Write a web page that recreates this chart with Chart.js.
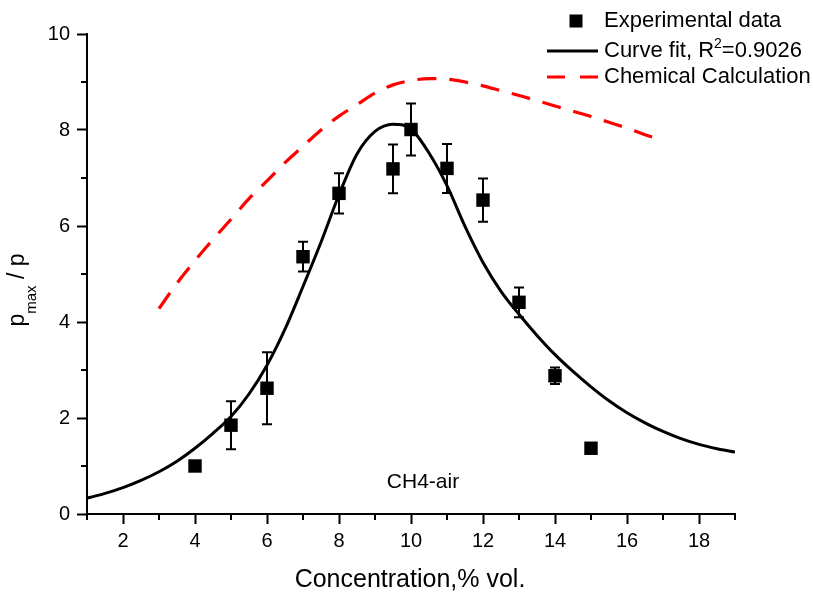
<!DOCTYPE html>
<html>
<head>
<meta charset="utf-8">
<title>CH4-air pressure ratio</title>
<script src="https://cdn.jsdelivr.net/npm/chart.js@4/dist/chart.umd.min.js"></script>
<style>
    html, body { margin: 0; padding: 0; background: #fff; }
    #wrap { width: 813px; height: 594px; position: relative; }
</style>
</head>
<body>
<div id="wrap"><canvas id="chart"></canvas></div>
<script>
// Measured points with their error bars
const conc = [4, 5, 6, 7, 8, 9.5, 10, 11, 12, 13, 14, 15];
const pRatio = [1.0, 1.85, 2.62, 5.36, 6.68, 7.19, 8.01, 7.2, 6.54, 4.41, 2.88, 1.37];
const pErr = [0, 0.5, 0.75, 0.31, 0.42, 0.51, 0.54, 0.51, 0.45, 0.31, 0.17, 0.1];

// Fitted curve
const fitX = [1, 1.5, 2, 2.5, 3, 3.5, 4, 4.5, 5, 5.5, 6, 6.5, 7, 7.5, 8, 8.5, 9, 9.5, 10,
    10.5, 11, 11.5, 12, 12.5, 13, 13.5, 14, 14.5, 15, 15.5, 16, 16.5, 17, 17.5, 18, 18.5, 19];
const fitY = [0.33, 0.43, 0.55, 0.7, 0.88, 1.1, 1.37, 1.68, 2.03, 2.5, 3.1, 3.85, 4.74, 5.66, 6.65, 7.5, 7.97, 8.12, 8.02,
    7.52, 6.84, 5.99, 5.24, 4.64, 4.16, 3.72, 3.32, 2.97, 2.65, 2.36, 2.11, 1.9, 1.72, 1.57, 1.45, 1.36, 1.29];

// Chemical calculation
const chemX = [3, 3.5, 4, 4.5, 5, 5.5, 6, 6.5, 7, 7.5, 8, 8.5, 9, 9.5, 10, 10.5, 11,
    11.5, 12, 12.5, 13, 13.5, 14, 14.5, 15, 15.5, 16, 16.5, 16.8];
const chemY = [4.28, 4.81, 5.28, 5.72, 6.14, 6.57, 6.94, 7.32, 7.66, 8.0, 8.29, 8.53, 8.77, 8.94, 9.03, 9.07, 9.06,
    9.0, 8.92, 8.82, 8.72, 8.61, 8.5, 8.39, 8.28, 8.16, 8.04, 7.9, 7.83];

// Axis ticks
const xTicks = [2, 4, 6, 8, 10, 12, 14, 16, 18];
const xMinor = [1, 3, 5, 7, 9, 11, 13, 15, 17, 19];
const yTicks = [0, 2, 4, 6, 8, 10];
const yMinor = [1, 3, 5, 7, 9];

const FONT = "'Liberation Sans', Arial, sans-serif";
const RED = '#ff0000';

const toXY = (xs, ys) => xs.map((x, i) => ({ x: x, y: ys[i] }));

// vertical error bars with caps
const errorBars = {
    id: 'errorBars',
    afterDatasetsDraw(chart) {
        const { ctx, scales: { x, y } } = chart;
        ctx.save();
        ctx.strokeStyle = '#000';
        ctx.lineWidth = 2;
        conc.forEach((c, i) => {
            if (!pErr[i]) return;
            const px = x.getPixelForValue(c);
            const top = y.getPixelForValue(pRatio[i] + pErr[i]);
            const bot = y.getPixelForValue(pRatio[i] - pErr[i]);
            ctx.beginPath();
            ctx.moveTo(px, top); ctx.lineTo(px, bot);
            ctx.moveTo(px - 5, top); ctx.lineTo(px + 5, top);
            ctx.moveTo(px - 5, bot); ctx.lineTo(px + 5, bot);
            ctx.stroke();
        });
        ctx.restore();
    }
};

// minor ticks, axis titles, annotation and legend
const decorations = {
    id: 'decorations',
    afterDraw(chart) {
        const { ctx, chartArea: area, scales: { x, y } } = chart;
        ctx.save();
        ctx.strokeStyle = '#000';
        ctx.lineWidth = 2;
        ctx.beginPath();
        xMinor.forEach(v => {
            const px = x.getPixelForValue(v);
            ctx.moveTo(px, area.bottom); ctx.lineTo(px, area.bottom + 6);
        });
        yMinor.forEach(v => {
            const py = y.getPixelForValue(v);
            ctx.moveTo(area.left, py); ctx.lineTo(area.left - 6, py);
        });
        ctx.stroke();

        ctx.fillStyle = '#000';

        // x title
        ctx.font = '25px ' + FONT;
        ctx.textAlign = 'center';
        ctx.textBaseline = 'alphabetic';
        ctx.fillText('Concentration,% vol.', 410, 587);

        // y title: p_max / p
        ctx.save();
        ctx.translate(24, 290);
        ctx.rotate(-Math.PI / 2);
        ctx.textAlign = 'left';
        const big = '23px ' + FONT, small = '15px ' + FONT;
        ctx.font = big;
        const w1 = ctx.measureText('p').width;
        const w3 = ctx.measureText(' / p').width;
        ctx.font = small;
        const w2 = ctx.measureText('max').width;
        let sx = -(w1 + w2 + w3) / 2;
        ctx.font = big;
        ctx.fillText('p', sx, 0);
        sx += w1;
        ctx.font = small;
        ctx.fillText('max', sx, 12);
        sx += w2;
        ctx.font = big;
        ctx.fillText(' / p', sx, 0);
        ctx.restore();

        // annotation
        ctx.font = '21px ' + FONT;
        ctx.textAlign = 'center';
        ctx.fillText('CH4-air', 423, 488);

        // legend
        ctx.textAlign = 'left';
        ctx.textBaseline = 'middle';
        ctx.font = '22px ' + FONT;
        ctx.fillRect(576 - 6.5, 21 - 6.5, 13, 13);
        ctx.fillText('Experimental data', 604, 21);

        ctx.beginPath();
        ctx.lineWidth = 3;
        ctx.moveTo(547, 51); ctx.lineTo(598, 51);
        ctx.stroke();
        let tx = 604;
        ctx.fillText('Curve fit, R', tx, 51);
        tx += ctx.measureText('Curve fit, R').width;
        ctx.font = '14px ' + FONT;
        ctx.fillText('2', tx, 44);
        tx += ctx.measureText('2').width;
        ctx.font = '22px ' + FONT;
        ctx.fillText('=0.9026', tx, 51);

        ctx.strokeStyle = RED;
        ctx.beginPath();
        ctx.moveTo(547, 77); ctx.lineTo(565, 77);
        ctx.moveTo(580, 77); ctx.lineTo(598, 77);
        ctx.stroke();
        ctx.fillText('Chemical Calculation', 604, 77);
        ctx.restore();
    }
};

const axisStyle = {
    grid: { display: true, drawOnChartArea: false, drawTicks: true, tickLength: 10, tickWidth: 2, tickColor: '#000' },
    border: { display: true, color: '#000', width: 2 }
};

new Chart(document.getElementById('chart'), {
    type: 'scatter',
    data: {
        datasets: [{
            label: 'Experimental data',
            data: toXY(conc, pRatio),
            showLine: false,
            pointStyle: 'rect',
            pointRadius: 9.5,
            pointBackgroundColor: '#000',
            pointBorderColor: '#000',
            pointBorderWidth: 0
        }, {
            label: 'Curve fit',
            data: toXY(fitX, fitY),
            showLine: true,
            borderColor: '#000',
            borderWidth: 3,
            pointRadius: 0,
            cubicInterpolationMode: 'monotone'
        }, {
            label: 'Chemical Calculation',
            data: toXY(chemX, chemY),
            showLine: true,
            borderColor: RED,
            borderWidth: 3.2,
            borderDash: [19, 13],
            pointRadius: 0,
            cubicInterpolationMode: 'monotone'
        }]
    },
    options: {
        responsive: true,
        maintainAspectRatio: false,
        animation: false,
        layout: { padding: { left: 0, right: 78, top: 34, bottom: 0 } },
        plugins: {
            legend: { display: false },
            tooltip: { enabled: false }
        },
        scales: {
            x: {
                type: 'linear',
                min: 1,
                max: 19,
                ...axisStyle,
                afterBuildTicks: s => { s.ticks = xTicks.map(v => ({ value: v })); },
                afterFit: s => { s.height = 80; },
                ticks: {
                    color: '#000',
                    padding: 5,
                    maxRotation: 0,
                    font: { family: FONT, size: 20 }
                }
            },
            y: {
                type: 'linear',
                min: 0,
                max: 10,
                ...axisStyle,
                afterBuildTicks: s => { s.ticks = yTicks.map(v => ({ value: v })); },
                afterFit: s => { s.width = 87; },
                ticks: {
                    color: '#000',
                    padding: 7,
                    font: { family: FONT, size: 20 }
                }
            }
        }
    },
    plugins: [errorBars, decorations]
});
</script>
</body>
</html>
